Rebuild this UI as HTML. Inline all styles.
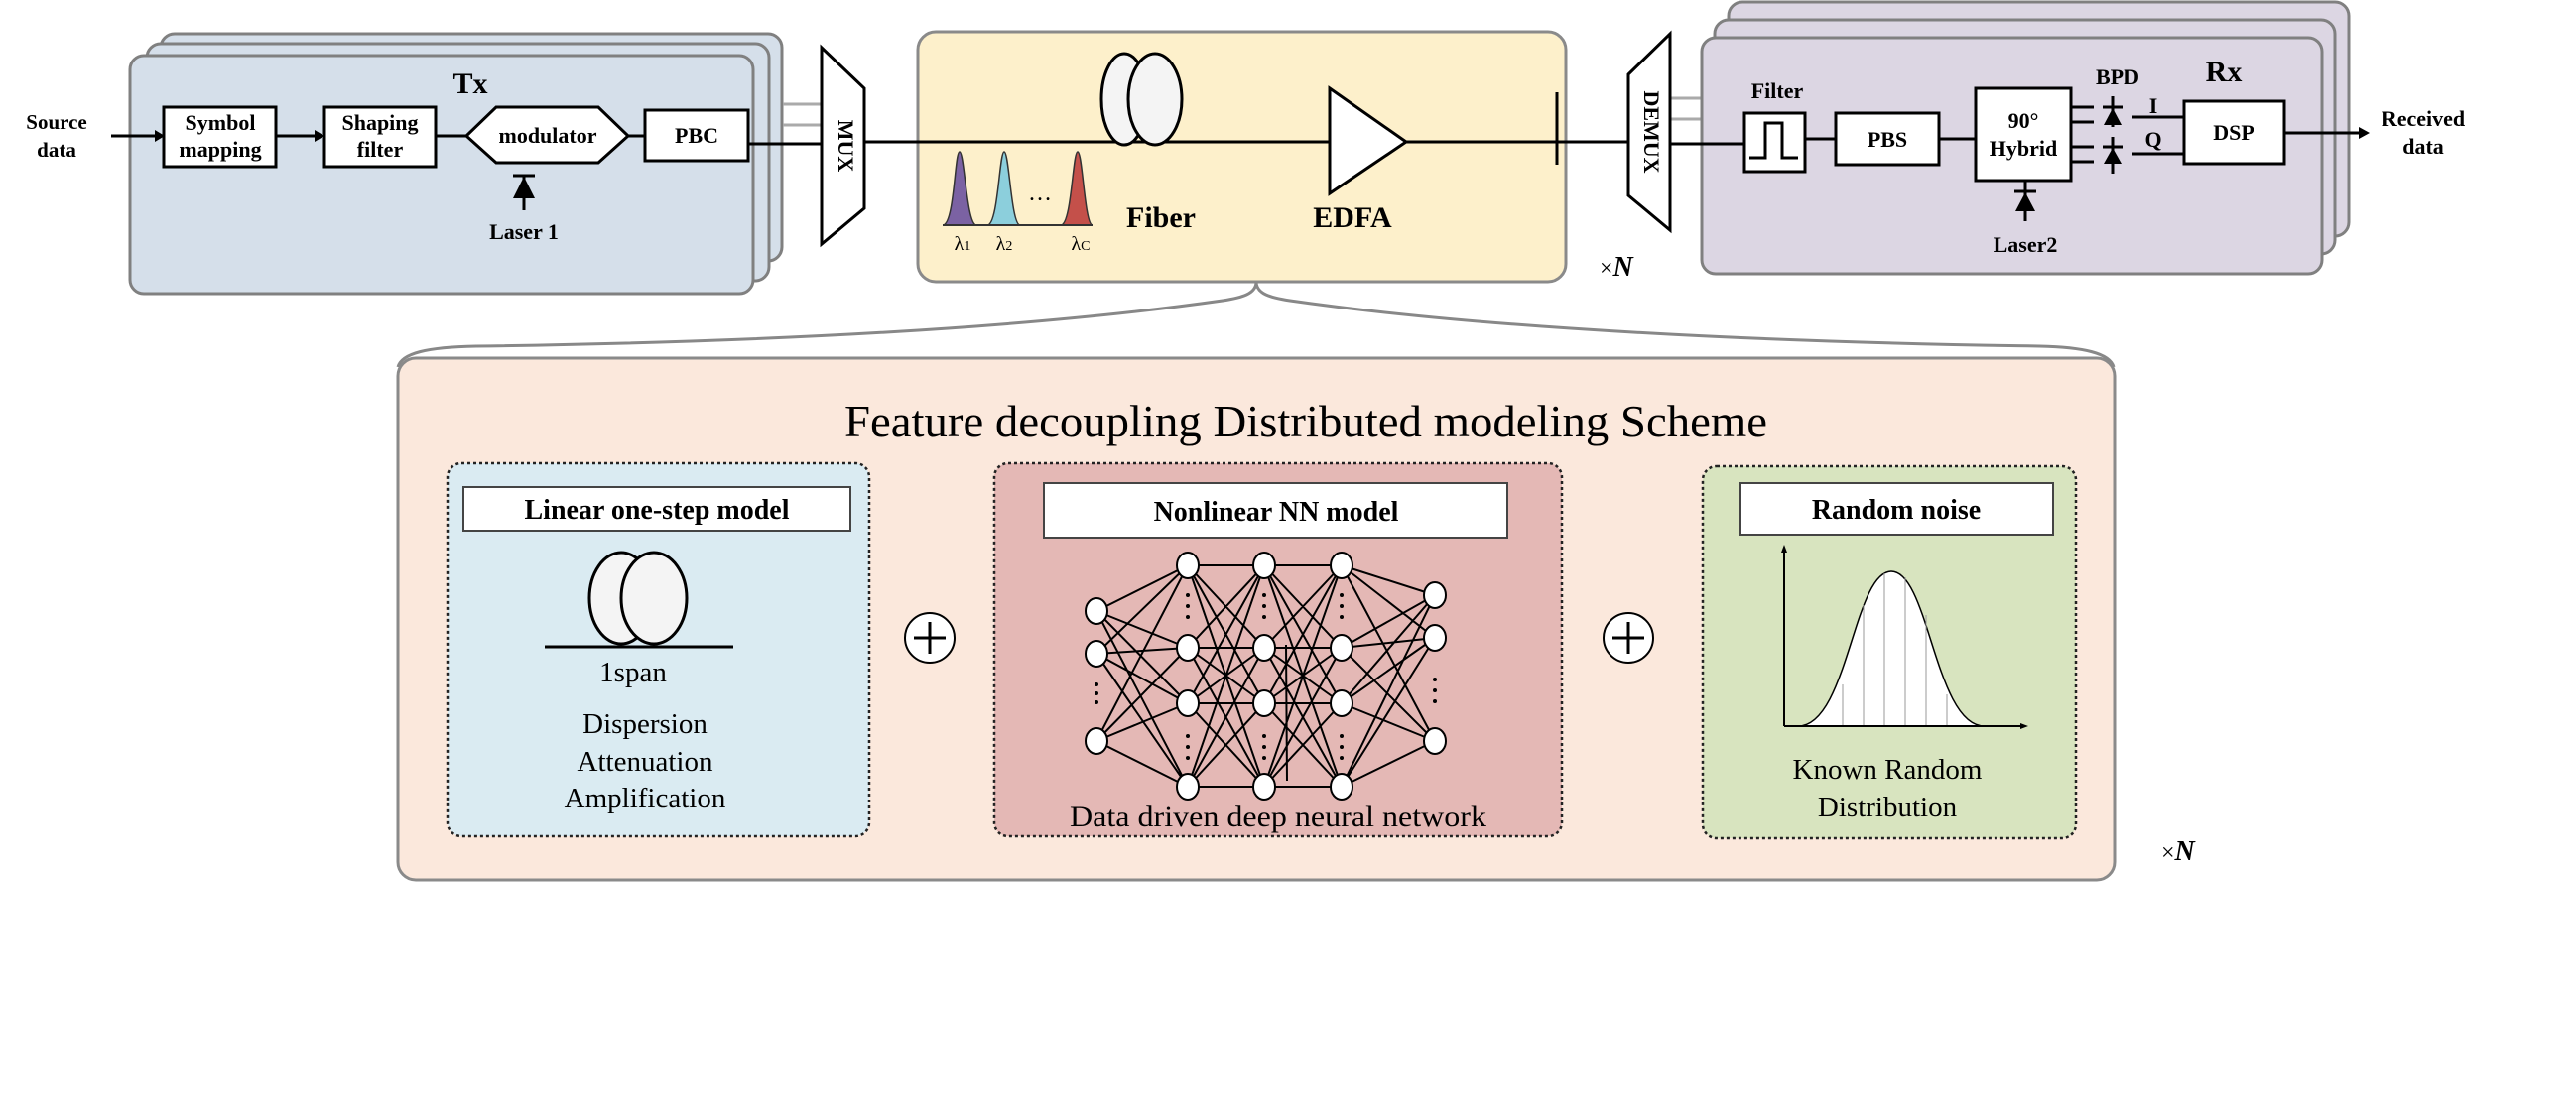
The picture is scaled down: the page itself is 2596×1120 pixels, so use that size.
<!DOCTYPE html>
<html><head><meta charset="utf-8"><style>
html,body{margin:0;padding:0;background:#fff;}
svg{display:block;}
text{font-family:"Liberation Serif",serif;}
.b{font-weight:bold;}
</style></head><body>
<svg width="2596" height="1120" viewBox="0 0 2596 1120" xmlns="http://www.w3.org/2000/svg">
<!-- Tx stack -->
<g fill="#d5dfea" stroke="#808080" stroke-width="3">
<rect x="162" y="34" width="626" height="229" rx="14"/>
<rect x="148" y="44" width="627" height="239" rx="14"/>
<rect x="131" y="56" width="628" height="240" rx="14"/>
</g>
<text x="474" y="94" class="b" font-size="30" text-anchor="middle">Tx</text>
<text x="57" y="130" class="b" font-size="21" text-anchor="middle">Source</text>
<text x="57" y="158" class="b" font-size="21" text-anchor="middle">data</text>
<g stroke="#000" stroke-width="3" fill="none">
<line x1="112" y1="137" x2="160" y2="137"/>
<line x1="278" y1="137" x2="322" y2="137"/>
<line x1="439" y1="137" x2="470" y2="137"/>
<line x1="633" y1="137" x2="650" y2="137"/>
<line x1="754" y1="145" x2="828" y2="145"/>
<line x1="528" y1="176" x2="528" y2="212"/>
<line x1="517" y1="177" x2="539" y2="177"/>
</g>
<polygon points="166,137 156,131 156,143" fill="#000"/>
<polygon points="327,137 317,131 317,143" fill="#000"/>
<polygon points="528,178 517,200 539,200" fill="#000"/>
<g fill="#fff" stroke="#000" stroke-width="3">
<rect x="165" y="108" width="113" height="60"/>
<rect x="327" y="108" width="112" height="60"/>
<polygon points="470,137 500,108 603,108 633,137 603,164 500,164"/>
<rect x="650" y="111" width="104" height="51"/>
</g>
<g class="b" font-size="22" text-anchor="middle">
<text x="222" y="131" class="b">Symbol</text>
<text x="222" y="158" class="b">mapping</text>
<text x="383" y="131" class="b">Shaping</text>
<text x="383" y="158" class="b">filter</text>
<text x="552" y="144" class="b">modulator</text>
<text x="702" y="144" class="b">PBC</text>
<text x="528" y="241" class="b">Laser 1</text>
</g>
<g stroke="#aaa" stroke-width="3">
<line x1="789" y1="105" x2="828" y2="105"/>
<line x1="789" y1="126" x2="828" y2="126"/>
<line x1="1683" y1="99" x2="1715" y2="99"/>
<line x1="1683" y1="120" x2="1715" y2="120"/>
</g>
<!-- MUX -->
<polygon points="828,48 871,89 871,210 828,246" fill="#fff" stroke="#000" stroke-width="3"/>
<text transform="translate(850,147) rotate(90)" class="b" font-size="22" text-anchor="middle" dominant-baseline="middle">MUX</text>
<!-- Fiber box -->
<rect x="925" y="32" width="653" height="252" rx="18" fill="#fdf0cb" stroke="#8a8a8a" stroke-width="3"/>
<g stroke="#000" stroke-width="3">
<line x1="871" y1="143" x2="1340" y2="143"/>
<line x1="1417" y1="143" x2="1641" y2="143"/>
<line x1="1569" y1="93" x2="1569" y2="166"/>
</g>
<ellipse cx="1133" cy="100" rx="23" ry="46" fill="#f4f4f4" stroke="#000" stroke-width="3"/>
<ellipse cx="1164" cy="100" rx="27" ry="46" fill="#f4f4f4" stroke="#000" stroke-width="3"/>
<polygon points="1340,89 1417,143 1340,195" fill="#fff" stroke="#000" stroke-width="3"/>
<path d="M950 227 C962 227 962 153 967 153 C972 153 974 227 984 227Z" fill="#7b62a3" stroke="#333" stroke-width="1.5"/>
<path d="M995 227 C1006 227 1007 153 1012 153 C1017 153 1019 227 1028 227Z" fill="#8ccfdc" stroke="#333" stroke-width="1.5"/>
<path d="M1069 227 C1080 227 1081 153 1086 153 C1091 153 1093 227 1101 227Z" fill="#c4504a" stroke="#333" stroke-width="1.5"/>
<line x1="950" y1="227" x2="1101" y2="227" stroke="#333" stroke-width="2"/>
<text x="1048" y="202" font-size="24" text-anchor="middle">…</text>
<text x="970" y="252" font-size="20" text-anchor="middle">λ<tspan font-size="14">1</tspan></text>
<text x="1012" y="252" font-size="20" text-anchor="middle">λ<tspan font-size="14">2</tspan></text>
<text x="1089" y="252" font-size="20" text-anchor="middle">λ<tspan font-size="14">C</tspan></text>
<text x="1170" y="229" class="b" font-size="30" text-anchor="middle">Fiber</text>
<text x="1363" y="229" class="b" font-size="30" text-anchor="middle">EDFA</text>
<text x="1612" y="278" font-size="24">×<tspan font-style="italic" font-weight="bold" font-size="28">N</tspan></text>
<!-- DEMUX -->
<polygon points="1641,75 1683,34 1683,232 1641,197" fill="#fff" stroke="#000" stroke-width="3"/>
<text transform="translate(1662,133) rotate(90)" class="b" font-size="22" text-anchor="middle" dominant-baseline="middle">DEMUX</text>
<!-- Rx stack -->
<g fill="#dcd6e3" stroke="#808080" stroke-width="3">
<rect x="1742" y="2" width="625" height="236" rx="14"/>
<rect x="1728" y="20" width="625" height="236" rx="14"/>
<rect x="1715" y="38" width="625" height="238" rx="14"/>
</g>
<g stroke="#000" stroke-width="3" fill="none">
<line x1="1683" y1="145" x2="1758" y2="145"/>
<line x1="1819" y1="140" x2="1850" y2="140"/>
<line x1="1954" y1="140" x2="1991" y2="140"/>
<line x1="2087" y1="108" x2="2110" y2="108"/>
<line x1="2087" y1="123" x2="2110" y2="123"/>
<line x1="2087" y1="148" x2="2110" y2="148"/>
<line x1="2087" y1="163" x2="2110" y2="163"/>
<line x1="2129" y1="97" x2="2129" y2="128"/>
<line x1="2119" y1="108" x2="2139" y2="108"/>
<line x1="2129" y1="138" x2="2129" y2="175"/>
<line x1="2119" y1="148" x2="2139" y2="148"/>
<line x1="2149" y1="118" x2="2201" y2="118"/>
<line x1="2149" y1="155" x2="2201" y2="155"/>
<line x1="2041" y1="182" x2="2041" y2="223"/>
<line x1="2030" y1="193" x2="2052" y2="193"/>
<line x1="2302" y1="134" x2="2380" y2="134"/>
</g>
<polygon points="2129,109 2120,126 2138,126" fill="#000"/>
<polygon points="2129,149 2120,165 2138,165" fill="#000"/>
<polygon points="2041,194 2031,213 2051,213" fill="#000"/>
<polygon points="2388,134 2377,128 2377,140" fill="#000"/>
<g fill="#fff" stroke="#000" stroke-width="3">
<rect x="1758" y="114" width="61" height="59"/>
<rect x="1850" y="114" width="104" height="52"/>
<rect x="1991" y="89" width="96" height="93"/>
<rect x="2201" y="102" width="101" height="63"/>
</g>
<path d="M1763 159 L1779 159 L1779 124 L1796 124 L1796 159 L1812 159" fill="none" stroke="#000" stroke-width="3"/>
<g font-size="22" text-anchor="middle">
<text x="1791" y="99" class="b">Filter</text>
<text x="1902" y="148" class="b">PBS</text>
<text x="2039" y="129" class="b">90°</text>
<text x="2039" y="157" class="b">Hybrid</text>
<text x="2041" y="254" class="b">Laser2</text>
<text x="2134" y="85" class="b">BPD</text>
<text x="2170" y="114" class="b">I</text>
<text x="2170" y="148" class="b">Q</text>
<text x="2251" y="141" class="b">DSP</text>
<text x="2442" y="127" class="b">Received</text>
<text x="2442" y="155" class="b">data</text>
</g>
<text x="2241" y="82" class="b" font-size="30" text-anchor="middle">Rx</text>
<!-- brace -->
<g fill="none" stroke="#888" stroke-width="3">
<path d="M1266 284 C1266 296 1252 300 1232 303 C1000 336 700 346 480 349 C430 350 405 356 401 370"/>
<path d="M1266 284 C1266 296 1280 300 1300 303 C1530 336 1850 346 2055 349 C2100 350 2126 356 2130 370"/>
</g>
<!-- bottom panel -->
<rect x="401" y="361" width="1730" height="526" rx="18" fill="#fbe8dc" stroke="#8a8a8a" stroke-width="3"/>
<text x="1316" y="440" font-size="46" text-anchor="middle" textLength="930" lengthAdjust="spacingAndGlyphs">Feature decoupling Distributed modeling Scheme</text>
<g stroke="#222" stroke-width="2.5" stroke-dasharray="3,3">
<rect x="451" y="467" width="425" height="376" rx="14" fill="#daebf2"/>
<rect x="1002" y="467" width="572" height="376" rx="14" fill="#e4b8b5"/>
<rect x="1716" y="470" width="376" height="375" rx="14" fill="#d8e4bf"/>
</g>
<g fill="#fff" stroke="#444" stroke-width="2">
<rect x="467" y="491" width="390" height="44"/>
<rect x="1052" y="487" width="467" height="55"/>
<rect x="1754" y="487" width="315" height="52"/>
</g>
<text x="662" y="523" class="b" font-size="28" text-anchor="middle">Linear one-step model</text>
<text x="1286" y="525" class="b" font-size="28" text-anchor="middle">Nonlinear NN model</text>
<text x="1911" y="523" class="b" font-size="28" text-anchor="middle">Random noise</text>
<!-- linear -->
<ellipse cx="626" cy="603" rx="32" ry="46" fill="#f4f4f4" stroke="#000" stroke-width="3"/>
<ellipse cx="659" cy="603" rx="33" ry="46" fill="#f4f4f4" stroke="#000" stroke-width="3"/>
<line x1="549" y1="652" x2="739" y2="652" stroke="#000" stroke-width="3"/>
<g font-size="29" text-anchor="middle">
<text x="638" y="687">1span</text>
<text x="650" y="739">Dispersion</text>
<text x="650" y="777">Attenuation</text>
<text x="650" y="814">Amplification</text>
</g>
<!-- plus -->
<g fill="#fff" stroke="#000" stroke-width="2">
<circle cx="937" cy="643" r="25"/>
<circle cx="1641" cy="643" r="25"/>
</g>
<g stroke="#000" stroke-width="3">
<line x1="921" y1="643" x2="953" y2="643"/><line x1="937" y1="627" x2="937" y2="659"/>
<line x1="1625" y1="643" x2="1657" y2="643"/><line x1="1641" y1="627" x2="1641" y2="659"/>
</g>
<!-- NN -->
<path stroke="#000" stroke-width="2" fill="none" d="
M1105 616L1197 570M1105 616L1197 653M1105 616L1197 709M1105 616L1197 793
M1105 659L1197 570M1105 659L1197 653M1105 659L1197 709M1105 659L1197 793
M1105 747L1197 570M1105 747L1197 653M1105 747L1197 709M1105 747L1197 793
M1197 570L1274 570M1197 570L1274 653M1197 570L1274 709M1197 570L1274 793
M1197 653L1274 570M1197 653L1274 653M1197 653L1274 709M1197 653L1274 793
M1197 709L1274 570M1197 709L1274 653M1197 709L1274 709M1197 709L1274 793
M1197 793L1274 570M1197 793L1274 653M1197 793L1274 709M1197 793L1274 793
M1274 570L1352 570M1274 570L1352 653M1274 570L1352 709M1274 570L1352 793
M1274 653L1352 570M1274 653L1352 653M1274 653L1352 709M1274 653L1352 793
M1274 709L1352 570M1274 709L1352 653M1274 709L1352 709M1274 709L1352 793
M1274 793L1352 570M1274 793L1352 653M1274 793L1352 709M1274 793L1352 793
M1352 570L1446 600M1352 570L1446 643M1352 570L1446 747
M1352 653L1446 600M1352 653L1446 643M1352 653L1446 747
M1352 709L1446 600M1352 709L1446 643M1352 709L1446 747
M1352 793L1446 600M1352 793L1446 643M1352 793L1446 747
M1296 650L1297 787"/>
<g fill="#fff" stroke="#000" stroke-width="2">
<ellipse cx="1105" cy="616" rx="11" ry="13"/><ellipse cx="1105" cy="659" rx="11" ry="13"/><ellipse cx="1105" cy="747" rx="11" ry="13"/>
<ellipse cx="1197" cy="570" rx="11" ry="13"/><ellipse cx="1197" cy="653" rx="11" ry="13"/><ellipse cx="1197" cy="709" rx="11" ry="13"/><ellipse cx="1197" cy="793" rx="11" ry="13"/>
<ellipse cx="1274" cy="570" rx="11" ry="13"/><ellipse cx="1274" cy="653" rx="11" ry="13"/><ellipse cx="1274" cy="709" rx="11" ry="13"/><ellipse cx="1274" cy="793" rx="11" ry="13"/>
<ellipse cx="1352" cy="570" rx="11" ry="13"/><ellipse cx="1352" cy="653" rx="11" ry="13"/><ellipse cx="1352" cy="709" rx="11" ry="13"/><ellipse cx="1352" cy="793" rx="11" ry="13"/>
<ellipse cx="1446" cy="600" rx="11" ry="13"/><ellipse cx="1446" cy="643" rx="11" ry="13"/><ellipse cx="1446" cy="747" rx="11" ry="13"/>
</g>
<g fill="#000">
<circle cx="1105" cy="690" r="2"/><circle cx="1105" cy="699" r="2"/><circle cx="1105" cy="708" r="2"/>
<circle cx="1446" cy="685" r="2"/><circle cx="1446" cy="696" r="2"/><circle cx="1446" cy="707" r="2"/>
<circle cx="1197" cy="600" r="2"/><circle cx="1197" cy="611" r="2"/><circle cx="1197" cy="622" r="2"/>
<circle cx="1274" cy="600" r="2"/><circle cx="1274" cy="611" r="2"/><circle cx="1274" cy="622" r="2"/>
<circle cx="1352" cy="600" r="2"/><circle cx="1352" cy="611" r="2"/><circle cx="1352" cy="622" r="2"/>
<circle cx="1197" cy="742" r="2"/><circle cx="1197" cy="753" r="2"/><circle cx="1197" cy="764" r="2"/>
<circle cx="1274" cy="742" r="2"/><circle cx="1274" cy="753" r="2"/><circle cx="1274" cy="764" r="2"/>
<circle cx="1352" cy="742" r="2"/><circle cx="1352" cy="753" r="2"/><circle cx="1352" cy="764" r="2"/>
</g>
<text x="1288" y="833" font-size="30" text-anchor="middle" textLength="420" lengthAdjust="spacingAndGlyphs">Data driven deep neural network</text>
<!-- random -->
<path d="M1812 732 C1862 732 1868 576 1906 576 C1944 576 1950 732 2000 732Z" fill="#fff" stroke="#000" stroke-width="1.5"/>
<g stroke="#999" stroke-width="1">
<line x1="1857" y1="690" x2="1857" y2="732"/><line x1="1878" y1="610" x2="1878" y2="732"/>
<line x1="1899" y1="578" x2="1899" y2="732"/><line x1="1920" y1="582" x2="1920" y2="732"/>
<line x1="1941" y1="620" x2="1941" y2="732"/><line x1="1962" y1="700" x2="1962" y2="732"/>
</g>
<g stroke="#000" stroke-width="2">
<line x1="1798" y1="555" x2="1798" y2="732"/>
<line x1="1798" y1="732" x2="2038" y2="732"/>
</g>
<polygon points="1798,549 1795,557 1801,557" fill="#000"/>
<polygon points="2044,732 2036,729 2036,735" fill="#000"/>
<text x="1902" y="785" font-size="29" text-anchor="middle">Known Random</text>
<text x="1902" y="823" font-size="29" text-anchor="middle">Distribution</text>
<text x="2178" y="867" font-size="24">×<tspan font-style="italic" font-weight="bold" font-size="28">N</tspan></text>
</svg>
</body></html>
